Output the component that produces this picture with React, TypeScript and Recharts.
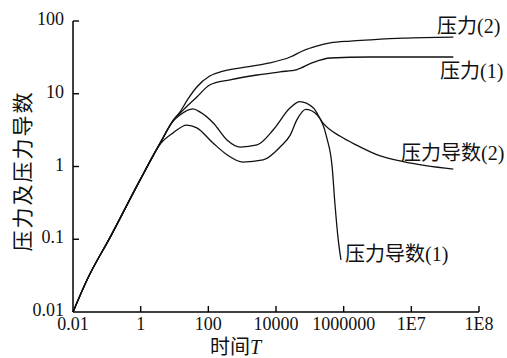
import { LineChart, Line, XAxis, YAxis } from "recharts";

// x positions are in tick-index units: the source axis spaces its labels evenly
const TIME_TICKS = [0, 1, 2, 3, 4, 5, 6];
const TIME_LABELS = ["0.01", "1", "100", "10000", "1000000", "1E7", "1E8"];
const VALUE_TICKS = [0.01, 0.1, 1, 10, 100];
const VALUE_LABELS = ["0.01", "0.1", "1", "10", "100"];

const pressure2 = [
  { t: 0, v: 0.01 }, { t: 0.21, v: 0.028 }, { t: 0.55, v: 0.107 }, { t: 0.99, v: 0.65 },
  { t: 1.3, v: 2.2 }, { t: 1.48, v: 4.3 }, { t: 1.58, v: 5.6 }, { t: 1.7, v: 8.5 },
  { t: 1.83, v: 12.4 }, { t: 2.02, v: 17.5 }, { t: 2.22, v: 20.5 }, { t: 2.57, v: 23.4 },
  { t: 2.91, v: 26.5 }, { t: 3.21, v: 32 }, { t: 3.4, v: 39 }, { t: 3.6, v: 45 },
  { t: 3.8, v: 50 }, { t: 4.1, v: 53 }, { t: 4.39, v: 55 }, { t: 4.88, v: 58 }, { t: 5.62, v: 60 },
];

const pressure1 = [
  { t: 0, v: 0.01 }, { t: 0.21, v: 0.028 }, { t: 0.55, v: 0.107 }, { t: 0.99, v: 0.65 },
  { t: 1.3, v: 2.2 }, { t: 1.48, v: 4.3 }, { t: 1.63, v: 6.0 }, { t: 1.83, v: 9.0 },
  { t: 2.02, v: 13.2 }, { t: 2.32, v: 15.5 }, { t: 2.72, v: 18.1 }, { t: 3.06, v: 20 },
  { t: 3.31, v: 21.5 }, { t: 3.55, v: 27 }, { t: 3.8, v: 31 }, { t: 4.39, v: 32 }, { t: 5.62, v: 32 },
];

const derivative2 = [
  { t: 0, v: 0.01 }, { t: 0.21, v: 0.028 }, { t: 0.55, v: 0.107 }, { t: 0.99, v: 0.65 },
  { t: 1.3, v: 2.2 }, { t: 1.48, v: 4.2 }, { t: 1.58, v: 5.1 }, { t: 1.77, v: 6.2 },
  { t: 1.88, v: 5.6 }, { t: 2.07, v: 4.0 }, { t: 2.28, v: 2.3 }, { t: 2.47, v: 1.85 },
  { t: 2.72, v: 1.98 }, { t: 2.96, v: 3.2 }, { t: 3.21, v: 6.4 }, { t: 3.35, v: 7.8 },
  { t: 3.55, v: 6.4 }, { t: 3.69, v: 4.0 }, { t: 3.95, v: 2.6 }, { t: 4.2, v: 1.95 },
  { t: 4.54, v: 1.4 }, { t: 4.88, v: 1.17 }, { t: 5.62, v: 0.92 },
];

const derivative1 = [
  { t: 0, v: 0.01 }, { t: 0.21, v: 0.028 }, { t: 0.55, v: 0.107 }, { t: 0.99, v: 0.65 },
  { t: 1.3, v: 2.1 }, { t: 1.48, v: 2.9 }, { t: 1.68, v: 3.7 }, { t: 1.83, v: 3.4 },
  { t: 2.07, v: 2.1 }, { t: 2.28, v: 1.44 }, { t: 2.51, v: 1.15 }, { t: 2.81, v: 1.23 },
  { t: 3.06, v: 1.85 }, { t: 3.21, v: 2.7 }, { t: 3.31, v: 4.4 }, { t: 3.44, v: 6.1 },
  { t: 3.61, v: 5.1 }, { t: 3.75, v: 2.5 }, { t: 3.83, v: 0.98 }, { t: 3.87, v: 0.315 },
  { t: 3.92, v: 0.098 }, { t: 3.96, v: 0.052 },
];

const SERIF = "'Liberation Serif', 'Noto Sans CJK SC', serif";
const CJK = "'Liberation Serif', 'Noto Sans CJK SC', sans-serif";

function TimeTick({ x, y, payload }: any) {
  const label = TIME_LABELS[TIME_TICKS.indexOf(payload.value)];
  return (
    <g>
      {payload.value !== 0 && <line x1={x} x2={x} y1={y - 6} y2={y} stroke="#000" strokeWidth={1.4} />}
      <text x={x} y={y + 18} textAnchor="middle" fontFamily={SERIF} fontSize={18} fill="#111">
        {label}
      </text>
    </g>
  );
}

function ValueTick({ x, y, payload }: any) {
  const label = VALUE_LABELS[VALUE_TICKS.indexOf(payload.value)];
  return (
    <g>
      {payload.value !== 0.01 && <line x1={x} x2={x + 6} y1={y} y2={y} stroke="#000" strokeWidth={1.4} />}
      <text x={x - 9} y={y - 2} textAnchor="end" dominantBaseline="central" fontFamily={SERIF} fontSize={18} fill="#111">
        {label}
      </text>
    </g>
  );
}

const label = (left: number, top: number): React.CSSProperties => ({
  position: "absolute",
  left,
  top,
  fontFamily: CJK,
  fontSize: 20,
  lineHeight: "20px",
  color: "#111",
  whiteSpace: "nowrap",
});

export default function App() {
  const line = { type: "monotone" as const, dataKey: "v", stroke: "#111", strokeWidth: 1.3, dot: false, isAnimationActive: false };
  return (
    <div style={{ position: "absolute", left: 0, top: 0, width: 507, height: 358, background: "#fff" }}>
      <LineChart width={507} height={358} margin={{ top: 21, right: 28, left: 0, bottom: 0 }}>
        <XAxis
          type="number"
          dataKey="t"
          domain={[0, 6]}
          ticks={TIME_TICKS}
          tick={<TimeTick />}
          tickLine={false}
          tickSize={0}
          tickMargin={0}
          height={46}
          axisLine={{ stroke: "#000", strokeWidth: 1.5 }}
          allowDuplicatedCategory={false}
        />
        <YAxis
          type="number"
          scale="log"
          domain={[0.01, 100]}
          ticks={VALUE_TICKS}
          tick={<ValueTick />}
          tickLine={false}
          tickSize={0}
          tickMargin={0}
          width={73}
          axisLine={{ stroke: "#000", strokeWidth: 1.5 }}
          allowDataOverflow
        />
        <Line {...line} data={pressure2} name="压力(2)" />
        <Line {...line} data={pressure1} name="压力(1)" />
        <Line {...line} data={derivative2} name="压力导数(2)" />
        <Line {...line} data={derivative1} name="压力导数(1)" />
      </LineChart>
      <div style={label(437, 16)}>压力(2)</div>
      <div style={label(440, 61)}>压力(1)</div>
      <div style={label(401, 143)}>压力导数(2)</div>
      <div style={label(345, 244)}>压力导数(1)</div>
      <div style={label(210, 337)}>
        时间<span style={{ fontStyle: "italic" }}>T</span>
      </div>
      <div
        style={{
          ...label(23, 171),
          fontSize: 21,
          letterSpacing: 2,
          transform: "translate(-50%, -50%) rotate(-90deg)",
        }}
      >
        压力及压力导数
      </div>
    </div>
  );
}
